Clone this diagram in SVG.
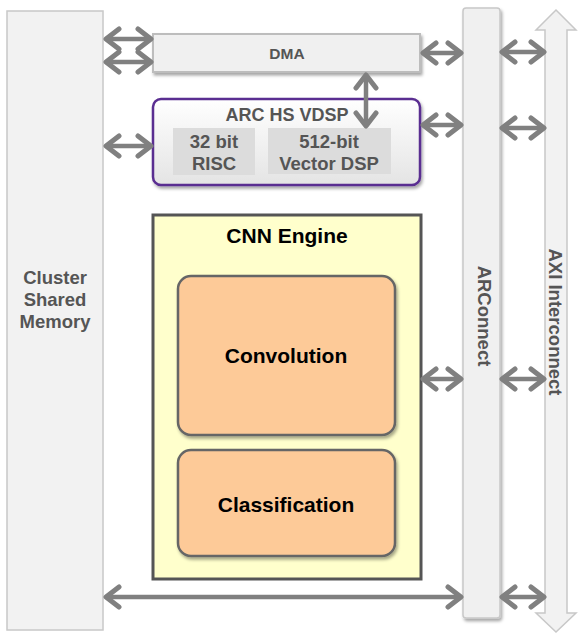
<svg xmlns="http://www.w3.org/2000/svg" width="579" height="638" viewBox="0 0 579 638">
<style>
.lbl{font-family:"Liberation Sans",Arial,sans-serif;font-weight:bold;fill:#555;text-anchor:middle}
.blk{font-family:"Liberation Sans",Arial,sans-serif;font-weight:bold;fill:#000;text-anchor:middle}
.arr{stroke:#808080;stroke-width:4.5;fill:none;marker-start:url(#ah);marker-end:url(#ah)}
.orange{fill:#fdca98;stroke:#666;stroke-width:2.5}
</style>
<defs>
<marker id="ah" viewBox="-18 -13 22 26" refX="0" refY="0" markerWidth="22" markerHeight="26" markerUnits="userSpaceOnUse" orient="auto-start-reverse">
<path d="M-13,-10 L0,0 L-13,10" fill="none" stroke="#808080" stroke-width="5" stroke-linecap="round" stroke-linejoin="round"/>
</marker>
<filter id="sh" x="-10%" y="-10%" width="130%" height="130%">
<feDropShadow dx="1.5" dy="2.5" stdDeviation="1.8" flood-color="#000" flood-opacity="0.35"/>
</filter>
<linearGradient id="vg" x1="0" y1="0" x2="0" y2="1">
<stop offset="0" stop-color="#ffffff"/>
<stop offset="1" stop-color="#e4e4e4"/>
</linearGradient>
</defs>
<rect width="579" height="638" fill="#fff"/>

<g id="cluster-memory">
<rect x="7" y="11" width="96" height="619" fill="#f2f2f2" stroke="#c8c8c8" stroke-width="1.5"/>
<text class="lbl" font-size="18.5" x="55" y="284">Cluster</text>
<text class="lbl" font-size="18.5" x="55" y="306">Shared</text>
<text class="lbl" font-size="18.5" x="55" y="328">Memory</text>
</g>

<g id="axi-interconnect">
<path d="M556,10 L576,30 L567,30 L567,613 L576,613 L556,632 L536,613 L545,613 L545,30 L536,30 Z" fill="#f2f2f2" stroke="#c8c8c8" stroke-width="1.5"/>
<text class="lbl" font-size="18.5" transform="translate(549,322) rotate(90)">AXI Interconnect</text>
</g>

<g id="arconnect">
<rect x="463" y="8" width="37" height="610" rx="3" fill="#f0f0f0" stroke="#c8c8c8" stroke-width="1.5" filter="url(#sh)"/>
<text class="lbl" font-size="18.5" transform="translate(478,316) rotate(90)">ARConnect</text>
</g>

<g id="dma">
<rect x="153" y="34" width="267" height="38" fill="#f0f0f0" stroke="#bdbdbd" stroke-width="2" filter="url(#sh)"/>
<text class="lbl" font-size="15.5" x="287" y="59">DMA</text>
</g>

<g id="arc-hs-vdsp">
<rect x="153" y="99" width="267" height="86" rx="8" fill="url(#vg)" stroke="#5a2d91" stroke-width="2.5" filter="url(#sh)"/>
<text class="lbl" font-size="18" x="287" y="121">ARC HS VDSP</text>
<rect x="173" y="128" width="82" height="47" fill="#dcdcdc"/>
<text class="lbl" font-size="18.5" x="214" y="148">32 bit</text>
<text class="lbl" font-size="18.5" x="214" y="170">RISC</text>
<rect x="268" y="128" width="123" height="46" fill="#dcdcdc"/>
<text class="lbl" font-size="18.5" x="329" y="148">512-bit</text>
<text class="lbl" font-size="18.5" x="329" y="170">Vector DSP</text>
</g>

<g id="cnn-engine">
<rect x="153" y="215" width="268" height="364" fill="#ffffcc" stroke="#555" stroke-width="3"/>
<text class="blk" font-size="21" x="287" y="243">CNN Engine</text>
</g>

<g id="convolution">
<rect class="orange" x="178" y="276" width="217" height="159" rx="13" filter="url(#sh)"/>
<text class="blk" font-size="21" x="286" y="363">Convolution</text>
</g>

<g id="classification">
<rect class="orange" x="178" y="450" width="217" height="106" rx="13" filter="url(#sh)"/>
<text class="blk" font-size="21" x="286" y="512">Classification</text>
</g>

<g id="connectors">
<line class="arr" x1="106" y1="39" x2="151" y2="39"/>
<line class="arr" x1="106" y1="62" x2="151" y2="62"/>
<line class="arr" x1="106" y1="146" x2="151" y2="146"/>
<line class="arr" x1="423" y1="53" x2="461" y2="53"/>
<line class="arr" x1="502" y1="52" x2="544" y2="52"/>
<line class="arr" x1="366" y1="75" x2="366" y2="126"/>
<line class="arr" x1="423" y1="125" x2="461" y2="125"/>
<line class="arr" x1="502" y1="128" x2="544" y2="128"/>
<line class="arr" x1="423" y1="379" x2="461" y2="379"/>
<line class="arr" x1="502" y1="379" x2="544" y2="379"/>
<line class="arr" x1="106" y1="597" x2="461" y2="597"/>
<line class="arr" x1="502" y1="597" x2="544" y2="597"/>
</g>
</svg>
